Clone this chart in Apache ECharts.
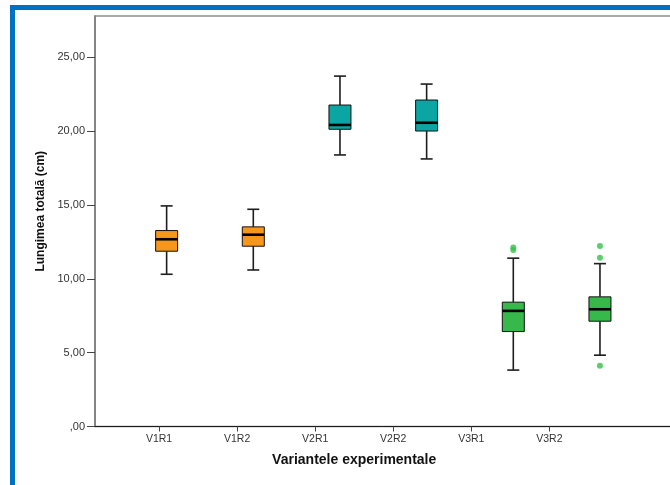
<!DOCTYPE html>
<html><head><meta charset="utf-8">
<script src="https://cdn.jsdelivr.net/npm/echarts@6/dist/echarts.min.js"></script>
<style>html,body{margin:0;padding:0;background:#fff}#c{width:670px;height:485px}</style>
</head><body><div id="c"></div>
<script>
// ---- data ----
const categories = ['V1R1', 'V1R2', 'V2R1', 'V2R2', 'V3R1', 'V3R2'];
const whiskerLow  = [10.31, 10.60, 18.39, 18.12, 3.82, 4.83];
const q1          = [11.87, 12.21, 20.13, 20.01, 6.43, 7.13];
const median      = [12.68, 12.99, 20.42, 20.57, 7.83, 7.94];
const q3          = [13.27, 13.52, 21.77, 22.11, 8.42, 8.78];
const whiskerHigh = [14.94, 14.71, 23.73, 23.19, 11.40, 11.03];
const outlierCategory = [4, 4, 5, 5, 5];
const outlierValue    = [12.12, 11.95, 12.23, 11.42, 4.11];
const yTicks = [0, 5, 10, 15, 20, 25];

const palette = ['#F7961D', '#F7961D', '#0BA6A4', '#0BA6A4', '#36B84A', '#36B84A'];
const Y_MAX = 27.8;

const boxData = categories.map((c, i) => [i, whiskerLow[i], q1[i], median[i], q3[i], whiskerHigh[i]]);
const outlierData = outlierCategory.map((c, i) => [c, outlierValue[i]]);

const chart = echarts.init(document.getElementById('c'), null, {renderer: 'canvas'});
const fmtY = v => v === 0 ? ',00' : v.toFixed(2).replace('.', ',');
const G = {top: 16, bottom: 58.5};

chart.setOption({
  backgroundColor: '#fff',
  animation: false,
  graphic: [
    {type: 'rect', shape: {x: 10, y: 5, width: 5, height: 480}, style: {fill: '#0070C0'}, z: 100},
    {type: 'rect', shape: {x: 10, y: 5, width: 660, height: 5}, style: {fill: '#0070C0'}, z: 100}
  ],
  grid: [
    {left: 95, top: G.top, width: 640, bottom: G.bottom, show: true, backgroundColor: '#fff', borderColor: '#8c8c8c', borderWidth: 1.5, outerBoundsMode: 'none', containLabel: false},
    {left: 120, top: G.top, width: 468.4, bottom: G.bottom, show: false, outerBoundsMode: 'none'},
    {left: 123.3, top: G.top, width: 520, bottom: G.bottom, show: false, outerBoundsMode: 'none'}
  ],
  xAxis: [
    {gridIndex: 0, type: 'value', min: 0, max: 1,
     axisLine: {show: true, lineStyle: {color: '#1a1a1a', width: 1}},
     axisTick: {show: false}, axisLabel: {show: false}, splitLine: {show: false}},
    {gridIndex: 1, type: 'category', data: categories, boundaryGap: true,
     axisLine: {show: false},
     axisTick: {show: true, alignWithLabel: true, length: 5, lineStyle: {color: '#444', width: 1}},
     axisLabel: {margin: 7, fontSize: 10.5, color: '#333', fontFamily: 'Liberation Sans, Arial, sans-serif'},
     name: 'Variantele experimentale', nameLocation: 'middle', nameGap: 27,
     nameTextStyle: {fontSize: 14, fontWeight: 'bold', color: '#111', fontFamily: 'Liberation Sans, Arial, sans-serif'},
     splitLine: {show: false}},
    {gridIndex: 2, type: 'category', data: categories, boundaryGap: true, show: false}
  ],
  yAxis: [
    {gridIndex: 0, type: 'value', min: 0, max: Y_MAX,
     axisLine: {show: true, lineStyle: {color: '#7a7a7a', width: 1.5}},
     axisTick: {show: true, length: 8, customValues: yTicks, lineStyle: {color: '#444', width: 1}},
     axisLabel: {customValues: yTicks, formatter: fmtY, margin: 10, fontSize: 11, color: '#333', fontFamily: 'Liberation Sans, Arial, sans-serif'},
     splitLine: {show: false},
     name: 'Lungimea totală (cm)', nameLocation: 'middle', nameGap: 44,
     nameTextStyle: {fontSize: 12, fontWeight: 'bold', color: '#111', padding: [0, 0, 0, 20], fontFamily: 'Liberation Sans, Arial, sans-serif'}},
    {gridIndex: 1, type: 'value', min: 0, max: Y_MAX, show: false},
    {gridIndex: 2, type: 'value', min: 0, max: Y_MAX, show: false}
  ],
  series: [
    {
      type: 'custom', xAxisIndex: 2, yAxisIndex: 2,
      data: boxData,
      encode: {x: 0, y: [1, 2, 3, 4, 5]},
      renderItem: function (params, api) {
        const i = api.value(0);
        const pLo = api.coord([i, api.value(1)]);
        const pQ1 = api.coord([i, api.value(2)]);
        const pMed = api.coord([i, api.value(3)]);
        const pQ3 = api.coord([i, api.value(4)]);
        const pHi = api.coord([i, api.value(5)]);
        const x = pMed[0];
        const hw = 11, cap = 6;
        const ws = {stroke: '#1e1e1e', lineWidth: 1.6};
        return {type: 'group', children: [
          {type: 'line', shape: {x1: x, y1: pHi[1], x2: x, y2: pQ3[1]}, style: ws},
          {type: 'line', shape: {x1: x, y1: pQ1[1], x2: x, y2: pLo[1]}, style: ws},
          {type: 'line', shape: {x1: x - cap, y1: pHi[1], x2: x + cap, y2: pHi[1]}, style: ws},
          {type: 'line', shape: {x1: x - cap, y1: pLo[1], x2: x + cap, y2: pLo[1]}, style: ws},
          {type: 'rect', shape: {x: x - hw, y: pQ3[1], width: 2 * hw, height: pQ1[1] - pQ3[1]},
           style: {fill: palette[i], stroke: '#111', lineWidth: 1}},
          {type: 'line', shape: {x1: x - hw, y1: pMed[1], x2: x + hw, y2: pMed[1]}, style: {stroke: '#000', lineWidth: 2.6}}
        ]};
      }
    },
    {
      type: 'scatter', xAxisIndex: 2, yAxisIndex: 2,
      data: outlierData, symbol: 'circle', symbolSize: 6,
      itemStyle: {color: '#33C24A'}
    }
  ]
});
</script></body></html>
